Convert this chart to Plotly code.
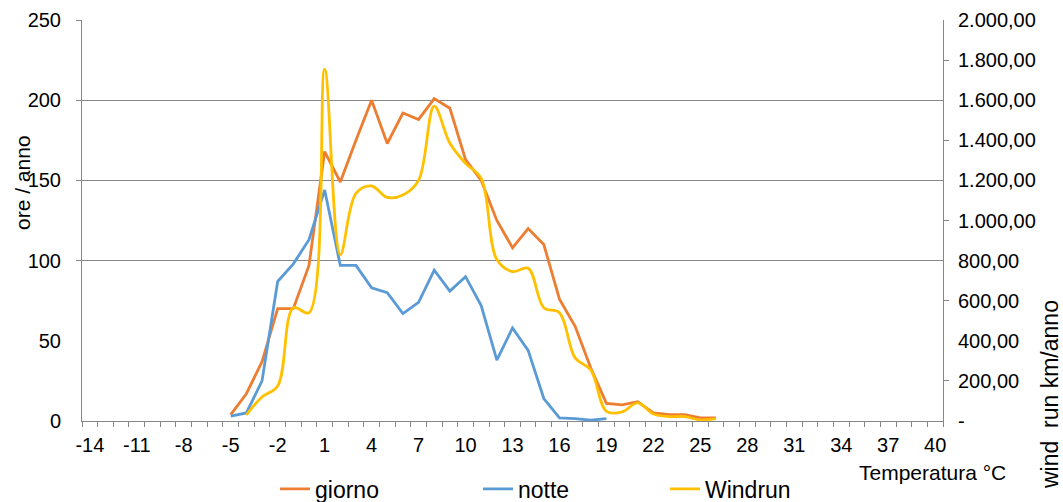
import plotly.graph_objects as go

# Temperature categories (°C)
temperatures = [-14, -13, -12, -11, -10, -9, -8, -7, -6, -5, -4, -3, -2, -1, 0, 1, 2, 3, 4, 5,
                6, 7, 8, 9, 10, 11, 12, 13, 14, 15, 16, 17, 18, 19, 20, 21, 22, 23, 24, 25,
                26, 27, 28, 29, 30, 31, 32, 33, 34, 35, 36, 37, 38, 39, 40]

N = None
# ore / anno (day)
giorno = [N, N, N, N, N, N, N, N, N, 4, 17, 37, 70, 70, 97, 168, 149, 175, 200, 173,
          192, 188, 201, 195, 163, 150, 125, 108, 120, 110, 76, 59, 33, 11, 10, 12, 5, 4, 4, 2,
          2, N, N, N, N, N, N, N, N, N, N, N, N, N, N]
# ore / anno (night)
notte = [N, N, N, N, N, N, N, N, N, 3, 5, 25, 87, 98, 113, 144, 97, 97, 83, 80,
         67, 74, 94, 81, 90, 72, 38, 58, 44, 14, 2, 1.5, 0.5, 1.5, N, N, N, N, N, N,
         N, N, N, N, N, N, N, N, N, N, N, N, N, N, N]
# wind run km/anno (secondary axis)
windrun = [N, N, N, N, N, N, N, N, N, N, 30, 120, 175, 565, 540, 1755, 830, 1135, 1172, 1115,
           1127, 1200, 1570, 1385, 1285, 1210, 805, 745, 762, 565, 540, 315, 255, 48, 45, 90, 35, 22, 22, 5,
           12, N, N, N, N, N, N, N, N, N, N, N, N, N, N]

x_tick_vals = [-14, -11, -8, -5, -2, 1, 4, 7, 10, 13, 16, 19, 22, 25, 28, 31, 34, 37, 40]
x_tick_text = ["-14", "-11", "-8", "-5", "-2", "1", "4", "7", "10", "13", "16", "19",
               "22", "25", "28", "31", "34", "37", "40"]
left_tick_vals = [0, 50, 100, 150, 200, 250]
left_grid_vals = [100, 150, 200, 250]
right_tick_vals = [0, 200, 400, 600, 800, 1000, 1200, 1400, 1600, 1800, 2000]
right_tick_text = ["-", "200,00", "400,00", "600,00", "800,00", "1.000,00", "1.200,00",
                   "1.400,00", "1.600,00", "1.800,00", "2.000,00"]
right_minor_vals = [200, 600, 1000, 1400, 1800]

ORANGE = "#ED7D31"
BLUE = "#5B9BD5"
YELLOW = "#FFC000"
GRID = "#878787"
FONT = "Liberation Sans, Arial, sans-serif"

W, H = 1063, 502
L, R, T, B = 82, 120, 20, 81


def cx(xp):
    return xp / W


def cy(yp):
    return (H - yp) / H


fig = go.Figure()
fig.add_trace(go.Scatter(x=temperatures, y=giorno, name="giorno", mode="lines",
                         line=dict(color=ORANGE, width=2.8), legend="legend"))
fig.add_trace(go.Scatter(x=temperatures, y=notte, name="notte", mode="lines",
                         line=dict(color=BLUE, width=2.8), legend="legend2"))
fig.add_trace(go.Scatter(x=temperatures, y=windrun, name="Windrun", mode="lines",
                         line=dict(color=YELLOW, width=2.8, shape="spline", smoothing=1.0),
                         yaxis="y2", legend="legend3"))

legend_common = dict(orientation="h", yanchor="middle", xanchor="left",
                     xref="container", yref="container",
                     font=dict(family=FONT, size=23, color="#000000"),
                     bgcolor="rgba(0,0,0,0)", borderwidth=0)

fig.update_layout(
    width=W, height=H,
    margin=dict(l=L, r=R, t=T, b=B, pad=0, autoexpand=False),
    paper_bgcolor="white", plot_bgcolor="white",
    font=dict(family=FONT, size=20, color="#000000"),
    showlegend=True,
    legend=dict(x=cx(275), y=cy(489), **legend_common),
    legend2=dict(x=cx(478), y=cy(489), **legend_common),
    legend3=dict(x=cx(665), y=cy(489), **legend_common),
    xaxis=dict(
        range=[-14.5, 40.5], tickmode="array", tickvals=x_tick_vals, ticktext=x_tick_text,
        ticks="", showgrid=False, zeroline=False,
        showline=True, linecolor=GRID, linewidth=1,
        ticklabelstandoff=6,
        tickfont=dict(family=FONT, size=20, color="#000000"),
        minor=dict(ticks="outside", ticklen=5, tickcolor=GRID, tickwidth=1,
                   tick0=-14.5, dtick=1, showgrid=False),
    ),
    yaxis=dict(
        range=[0, 250], tickmode="array", tickvals=left_tick_vals,
        ticks="", showgrid=False, zeroline=False,
        showline=True, linecolor=GRID, linewidth=1,
        ticklabelstandoff=16,
        tickfont=dict(family=FONT, size=20, color="#000000"),
    ),
    yaxis3=dict(
        range=[0, 250], overlaying="y", side="left", tickmode="array",
        tickvals=left_grid_vals, showticklabels=False,
        ticks="outside", ticklen=5, tickcolor=GRID,
        showgrid=True, gridcolor=GRID, gridwidth=1, zeroline=False, showline=False,
    ),
    yaxis2=dict(
        range=[0, 2000], overlaying="y", side="right", tickmode="array",
        tickvals=right_tick_vals, ticktext=right_tick_text,
        ticks="", showgrid=False, zeroline=False,
        showline=True, linecolor=GRID, linewidth=1,
        ticklabelstandoff=10,
        tickfont=dict(family=FONT, size=20, color="#000000"),
    ),
    yaxis4=dict(
        range=[0, 2000], overlaying="y", side="right", tickmode="array",
        tickvals=right_minor_vals, showticklabels=False,
        ticks="outside", ticklen=5, tickcolor=GRID,
        showgrid=False, zeroline=False, showline=False,
    ),
    annotations=[
        dict(text="ore / anno", xref="paper", yref="paper",
             x=(22 - L) / (W - L - R), y=(H - B - 183) / (H - B - T),
             xanchor="center", yanchor="middle", textangle=-90, showarrow=False,
             font=dict(family=FONT, size=21, color="#000000")),
        dict(text="wind  run km/anno", xref="paper", yref="paper",
             x=(1050 - L) / (W - L - R), y=(H - B - 395) / (H - B - T),
             xanchor="center", yanchor="middle", textangle=-90, showarrow=False,
             font=dict(family=FONT, size=23, color="#000000")),
        dict(text="Temperatura °C", xref="paper", yref="paper",
             x=(932 - L) / (W - L - R), y=(H - B - 473) / (H - B - T),
             xanchor="center", yanchor="middle", showarrow=False,
             font=dict(family=FONT, size=21, color="#000000")),
    ],
)

# invisible traces so overlay axes y3/y4 are rendered
fig.add_trace(go.Scatter(x=[None], y=[None], yaxis="y3", showlegend=False, hoverinfo="skip"))
fig.add_trace(go.Scatter(x=[None], y=[None], yaxis="y4", showlegend=False, hoverinfo="skip"))

fig.write_html("out.html")
